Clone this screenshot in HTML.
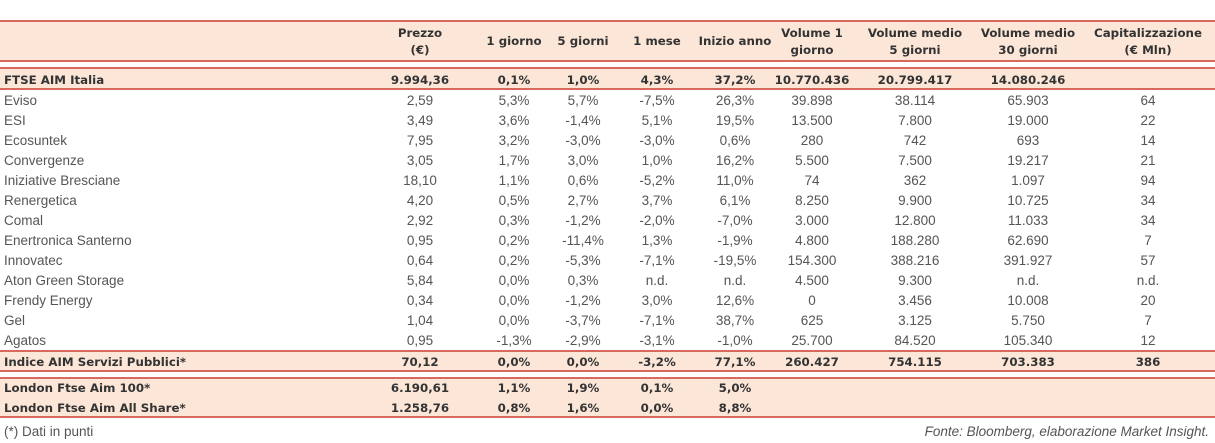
<!DOCTYPE html>
<html><head><meta charset="utf-8"><style>
body{margin:0;width:1215px;height:443px;background:#fff;position:relative;overflow:hidden;font-family:"Liberation Sans",sans-serif;font-size:13.5px;color:#555}
.band{position:absolute;left:0;width:1215px;background:#fbe6d8}
.ln{position:absolute;left:0;width:1215px;height:2px;background:#d9685d}
.t{position:absolute;white-space:nowrap;line-height:16px}
.c{width:140px;text-align:center;margin-left:-70px}
.b{font-family:"DejaVu Sans",sans-serif;font-weight:bold;color:#333;font-size:11.8px}
</style></head><body>
<div class="band" style="top:21px;height:41px"></div>
<div class="band" style="top:69px;height:21px"></div>
<div class="band" style="top:352px;height:20px"></div>
<div class="band" style="top:379px;height:39px"></div>
<div class="ln" style="top:20px"></div>
<div class="ln" style="top:60px"></div>
<div class="ln" style="top:67px"></div>
<div class="ln" style="top:88px"></div>
<div class="ln" style="top:350px"></div>
<div class="ln" style="top:370px"></div>
<div class="ln" style="top:377px"></div>
<div class="ln" style="top:416px"></div>
<div class="t" style="left:4px;top:424px">(*) Dati in punti</div>
<div class="t" style="right:6px;top:424px;font-style:italic">Fonte: Bloomberg, elaborazione Market Insight.</div>
<script>
const centers=[420,514,583,657,735,812,915,1028,1148];
const headers=[["Prezzo","(€)"],["1 giorno"],["5 giorni"],["1 mese"],["Inizio anno"],["Volume 1","giorno"],["Volume medio","5 giorni"],["Volume medio","30 giorni"],["Capitalizzazione","(€ Mln)"]];
const names=["FTSE AIM Italia","Eviso","ESI","Ecosuntek","Convergenze","Iniziative Bresciane","Renergetica","Comal","Enertronica Santerno","Innovatec","Aton Green Storage","Frendy Energy","Gel","Agatos","Indice AIM Servizi Pubblici*","London Ftse Aim 100*","London Ftse Aim All Share*"];
const values=[
["9.994,36","0,1%","1,0%","4,3%","37,2%","10.770.436","20.799.417","14.080.246",""],
["2,59","5,3%","5,7%","-7,5%","26,3%","39.898","38.114","65.903","64"],
["3,49","3,6%","-1,4%","5,1%","19,5%","13.500","7.800","19.000","22"],
["7,95","3,2%","-3,0%","-3,0%","0,6%","280","742","693","14"],
["3,05","1,7%","3,0%","1,0%","16,2%","5.500","7.500","19.217","21"],
["18,10","1,1%","0,6%","-5,2%","11,0%","74","362","1.097","94"],
["4,20","0,5%","2,7%","3,7%","6,1%","8.250","9.900","10.725","34"],
["2,92","0,3%","-1,2%","-2,0%","-7,0%","3.000","12.800","11.033","34"],
["0,95","0,2%","-11,4%","1,3%","-1,9%","4.800","188.280","62.690","7"],
["0,64","0,2%","-5,3%","-7,1%","-19,5%","154.300","388.216","391.927","57"],
["5,84","0,0%","0,3%","n.d.","n.d.","4.500","9.300","n.d.","n.d."],
["0,34","0,0%","-1,2%","3,0%","12,6%","0","3.456","10.008","20"],
["1,04","0,0%","-3,7%","-7,1%","38,7%","625","3.125","5.750","7"],
["0,95","-1,3%","-2,9%","-3,1%","-1,0%","25.700","84.520","105.340","12"],
["70,12","0,0%","0,0%","-3,2%","77,1%","260.427","754.115","703.383","386"],
["6.190,61","1,1%","1,9%","0,1%","5,0%","","","",""],
["1.258,76","0,8%","1,6%","0,0%","8,8%","","","",""]];
const rowY=[80,101,121,141,161,181,201,221,241,261,281,301,321,341,362,388,408];
const boldRows=[0,14,15,16];
function mk(txt,cls,x,y){const d=document.createElement('div');d.className='t '+cls;d.textContent=txt;d.style.left=x+'px';d.style.top=(y-8)+'px';document.body.appendChild(d);return d;}
headers.forEach((h,i)=>{h.forEach((line,j)=>{const y=h.length===1?41:33+j*17;const d=mk(line,'c b',centers[i],y);

});});
names.forEach((n,r)=>{const b=boldRows.includes(r)?' b':'';const d=mk(n,b,4,rowY[r]);


values[r].forEach((v,i)=>{if(!v)return;const c=mk(v,'c'+b,centers[i],rowY[r]);

});});
</script>
</body></html>
